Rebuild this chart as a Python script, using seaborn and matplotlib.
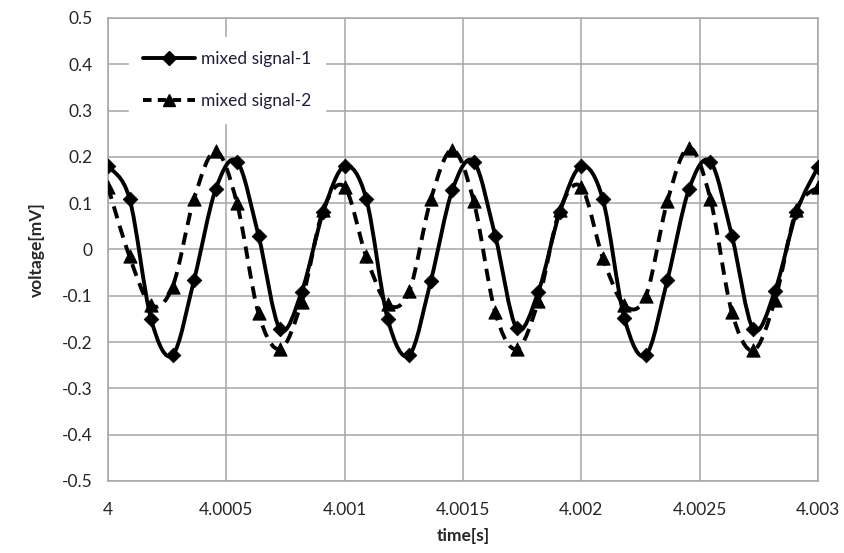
import numpy as np
import pandas as pd
import seaborn as sns
import matplotlib
matplotlib.use("Agg")
import matplotlib.pyplot as plt
from matplotlib.path import Path
from matplotlib.patches import PathPatch
from matplotlib.lines import Line2D

# sample times [s] (11 kHz sampling)
time = [4.0, 4.000091, 4.000182, 4.000273, 4.000364, 4.000455, 4.000545, 4.000636,
        4.000727, 4.000818, 4.000909, 4.001, 4.001091, 4.001182, 4.001273, 4.001364,
        4.001455, 4.001545, 4.001636, 4.001727, 4.001818, 4.001909, 4.002, 4.002091,
        4.002182, 4.002273, 4.002364, 4.002455, 4.002545, 4.002636, 4.002727, 4.002818,
        4.002909, 4.003]

# voltage [mV]
signal1 = [0.180, 0.110, -0.150, -0.228, -0.065, 0.130, 0.190, 0.030, -0.172, -0.092, 0.080,
           0.180, 0.110, -0.150, -0.228, -0.068, 0.128, 0.190, 0.030, -0.170, -0.092, 0.080,
           0.180, 0.108, -0.148, -0.228, -0.065, 0.130, 0.190, 0.030, -0.172, -0.090, 0.080,
           0.178]
signal2 = [0.135, -0.015, -0.120, -0.080, 0.110, 0.212, 0.100, -0.138, -0.215, -0.113, 0.085,
           0.135, -0.015, -0.118, -0.090, 0.108, 0.215, 0.105, -0.135, -0.215, -0.112, 0.085,
           0.135, -0.018, -0.120, -0.100, 0.105, 0.220, 0.110, -0.135, -0.218, -0.110, 0.085,
           0.135]

labels = ["mixed signal-1", "mixed signal-2"]
xticks = [4, 4.0005, 4.001, 4.0015, 4.002, 4.0025, 4.003]
xticklabels = ["4", "4.0005", "4.001", "4.0015", "4.002", "4.0025", "4.003"]
yticks = [0.5, 0.4, 0.3, 0.2, 0.1, 0, -0.1, -0.2, -0.3, -0.4, -0.5]

sns.set_style("white")
plt.rcParams["font.family"] = ["Lato", "DejaVu Sans"]


def smooth_path(x, y):
    # Excel-like smoothed line: cubic bezier segments through the points
    x = np.asarray(x) - 4.0
    y = np.asarray(y)
    n = len(x)
    verts = [(x[0], y[0])]
    codes = [Path.MOVETO]
    for i in range(n - 1):
        i0 = max(i - 1, 0)
        i3 = min(i + 2, n - 1)
        c1 = (x[i] + (x[i + 1] - x[i0]) / 6, y[i] + (y[i + 1] - y[i0]) / 6)
        c2 = (x[i + 1] - (x[i3] - x[i]) / 6, y[i + 1] - (y[i3] - y[i]) / 6)
        verts += [c1, c2, (x[i + 1], y[i + 1])]
        codes += [Path.CURVE4] * 3
    return Path(verts, codes)


fig = plt.figure(figsize=(8.45, 5.53), dpi=100)
ax = fig.add_axes([0.1278, 0.1302, 0.8402, 0.8373])

df = pd.DataFrame({"t": np.asarray(time) - 4.0, "s1": signal1, "s2": signal2})

ax.add_patch(PathPatch(smooth_path(time, signal1), fill=False, edgecolor="black",
                       lw=2.8, zorder=3))
ax.add_patch(PathPatch(smooth_path(time, signal2), fill=False, edgecolor="black",
                       lw=2.8, linestyle=(0, (3.2, 2.0)), zorder=3))

sns.scatterplot(data=df, x="t", y="s1", marker="D", s=55, color="black",
                edgecolor="black", ax=ax, zorder=4)
sns.scatterplot(data=df, x="t", y="s2", marker="^", s=90, color="black",
                edgecolor="black", ax=ax, zorder=4)

ax.set_xlim(0, 0.003)
ax.set_ylim(-0.5, 0.5)
ax.set_xticks([v - 4 for v in xticks])
ax.set_xticklabels(xticklabels)
ax.set_yticks(yticks)
ax.set_yticklabels([str(v) for v in yticks])
ax.tick_params(length=0, labelsize=12.5, colors="#262626")
ax.tick_params(axis="x", pad=15)
ax.tick_params(axis="y", pad=11)
ax.grid(True, color="#a6a6a6", lw=1.1)
ax.set_axisbelow(True)
for sp in ax.spines.values():
    sp.set_color("#a6a6a6")
    sp.set_linewidth(1.1)

ax.set_xlabel("time[s]", fontsize=12.5, fontweight="bold", labelpad=7)
ax.set_ylabel("voltage[mV]", fontsize=12.5, fontweight="bold", labelpad=12)

handles = [
    Line2D([], [], color="black", lw=2.8, marker="D", markersize=7),
    Line2D([], [], color="black", lw=2.8, linestyle=(0, (2.2, 1.6)), marker="^",
           markersize=9),
]
leg = ax.legend(handles, labels, loc="upper left", bbox_to_anchor=(0.018, 0.978),
                frameon=True, facecolor="white", edgecolor="white", framealpha=1,
                fontsize=12.5, handlelength=3.0, labelspacing=1.5, borderpad=0.8,
                handletextpad=0.3, fancybox=False)
leg.set_zorder(5)
for txt in leg.get_texts():
    txt.set_color("#1f1f3a")

fig.savefig("out.png", dpi=100)
